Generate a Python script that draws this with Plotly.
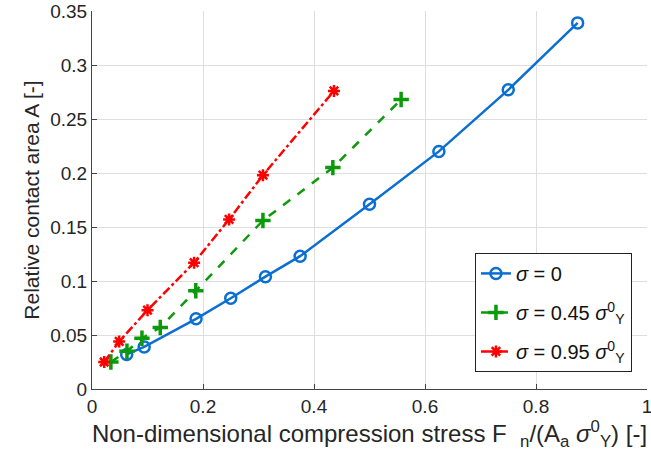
import plotly.graph_objects as go

x0 = [0.0625, 0.094, 0.1875, 0.25, 0.3125, 0.375, 0.5, 0.625, 0.75, 0.875]
y0 = [0.032, 0.039, 0.065, 0.084, 0.104, 0.123, 0.171, 0.220, 0.277, 0.339]

x45 = [0.034, 0.063, 0.090, 0.123, 0.187, 0.308, 0.434, 0.557]
y45 = [0.025, 0.035, 0.047, 0.057, 0.091, 0.156, 0.205, 0.268]

x95 = [0.022, 0.049, 0.100, 0.184, 0.247, 0.308, 0.436]
y95 = [0.025, 0.044, 0.073, 0.117, 0.157, 0.198, 0.276]

xticks = [0, 0.2, 0.4, 0.6, 0.8, 1]
xticklabels = ["0", "0.2", "0.4", "0.6", "0.8", "1"]
yticks = [0, 0.05, 0.1, 0.15, 0.2, 0.25, 0.3, 0.35]
yticklabels = ["0", "0.05", "0.1", "0.15", "0.2", "0.25", "0.3", "0.35"]

names = ["<i>σ</i> = 0",
         "<i>σ</i> = 0.45 <i>σ</i><sup>0</sup><sub>Y</sub>",
         "<i>σ</i> = 0.95 <i>σ</i><sup>0</sup><sub>Y</sub>"]

FONT = "Liberation Sans, Arial, Helvetica, sans-serif"

fig = go.Figure()
fig.add_trace(go.Scatter(x=x0, y=y0, name=names[0], mode="lines+markers", legendgroup="a",
                         line=dict(color="#0a6fd0", width=2.5),
                         marker=dict(symbol="circle-open", size=11, color="#0a6fd0",
                                     line=dict(width=2.5, color="#0a6fd0"))))
fig.add_trace(go.Scatter(x=x45, y=y45, name=names[1], mode="lines+markers", legendgroup="b",
                         line=dict(color="#0a9a0a", width=2.5, dash="dash"),
                         marker=dict(symbol="cross-thin-open", size=11, color="#0a9a0a",
                                     line=dict(width=3.5, color="#0a9a0a"))))
fig.add_trace(go.Scatter(x=x95, y=y95, name=names[2], mode="lines+markers", legendgroup="c",
                         line=dict(color="#ff0000", width=2.5, dash="dashdot"),
                         marker=dict(symbol="asterisk-open", size=10, color="#ff0000",
                                     line=dict(width=2.5, color="#ff0000"))))

axis_common = dict(showgrid=True, gridcolor="#dedede", gridwidth=1,
                   showline=True, linecolor="#444444", linewidth=1,
                   ticks="inside", ticklen=5, tickcolor="#444444",
                   tickfont=dict(family=FONT, size=19, color="#262626"),
                   ticklabeloverflow="allow", automargin=False,
                   zeroline=False, mirror=False)

fig.update_layout(
    width=651, height=474,
    margin=dict(l=92, r=4, t=11, b=85, autoexpand=False),
    paper_bgcolor="white", plot_bgcolor="white",
    font=dict(family=FONT, color="#262626"),
    xaxis=dict(range=[0, 1], tickvals=xticks, ticktext=xticklabels,
               title=dict(text="Non-dimensional compression stress F  <sub>n</sub>/(A<sub>a</sub> <i>σ</i><sup>0</sup><sub>Y</sub>) [-]",
                          font=dict(size=24), standoff=6),
               **axis_common),
    yaxis=dict(range=[0, 0.35], tickvals=yticks, ticktext=yticklabels,
               title=dict(text="Relative contact area A [-]", font=dict(size=21), standoff=4),
               **axis_common),
    legend=dict(x=0.69, y=0.36, xanchor="left", yanchor="top",
                bgcolor="white", bordercolor="#222222", borderwidth=1,
                font=dict(family=FONT, size=20, color="#111111"),
                itemwidth=30, tracegroupgap=10),
    showlegend=True,
)

fig.write_html("out.html", config={"displayModeBar": False},
               post_script="document.body.style.margin='0px';")
